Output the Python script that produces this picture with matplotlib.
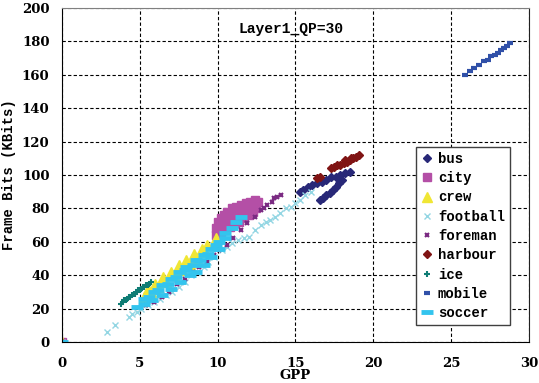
import matplotlib
matplotlib.use("Agg")
import matplotlib.pyplot as plt

# values (GPP, frame bits in KBits)
bus_x = [0, 15.3, 15.5, 15.8, 16.1, 16.4, 16.7, 17.0, 17.3, 17.6, 17.9, 18.2, 18.5,
         16.6, 16.8, 17.0, 17.2, 17.4, 17.6, 17.8, 18.0]
bus_y = [0, 90, 91, 93, 94, 95, 96, 97, 99, 99, 100, 101, 102,
         85, 86, 88, 89, 91, 93, 95, 97]

city_x = [0, 9.9, 10.2, 10.5, 10.8, 11.1, 11.4, 11.7, 12.0, 12.3, 12.5,
          9.9, 10.1, 10.4, 10.7, 11.0, 11.3, 11.6, 11.9, 12.2, 12.5,
          10.0, 10.2, 10.4, 10.6, 10.9, 11.2, 11.5, 11.8, 12.1, 12.4, 12.6,
          10.0, 10.3, 10.6, 10.9, 11.2, 11.5, 11.8]
city_y = [0, 64, 66, 67, 69, 71, 72, 74, 76, 78, 80,
          68, 70, 72, 74, 76, 77, 79, 81, 82, 83,
          72, 74, 76, 78, 80, 81, 82, 83, 84, 85, 84,
          66, 68, 70, 72, 74, 76, 78]

crew_x = [0, 5.3, 5.7, 6.2, 6.7, 7.2, 7.7, 8.2, 8.7, 9.2, 9.7, 9.9,
          5.5, 6.0, 6.5, 7.0, 7.5, 8.0, 8.5, 9.0, 9.3]
crew_y = [0, 27, 30, 33, 36, 40, 43, 47, 50, 54, 58, 62,
          32, 35, 39, 42, 46, 49, 53, 56, 58]

football_x = [0, 2.9, 3.4, 4.3, 4.5, 4.8, 5.1, 5.5, 5.9, 6.3, 6.7, 7.1, 7.5, 7.9,
              8.3, 8.7, 9.1, 9.4, 9.8, 10.3, 10.6, 10.9, 11.3, 11.7, 12.0, 12.4,
              12.8, 13.1, 13.4, 13.7, 14.0, 14.4, 14.7, 15.0, 15.3, 15.6, 16.0]
football_y = [0, 6, 10, 15, 17, 18, 20, 22, 24, 26, 28, 30, 33, 36,
              40, 42, 45, 48, 51, 55, 57, 59, 61, 62, 63, 67,
              70, 72, 73, 75, 77, 80, 81, 83, 85, 88, 90]

foreman_x = [0, 5.4, 5.9, 6.4, 6.9, 7.4, 7.9, 8.4, 8.8, 9.3, 9.8, 10.1, 10.6,
             11.0, 11.5, 11.9, 12.4, 12.8, 13.0, 13.2, 13.5, 13.6, 13.8, 14.1]
foreman_y = [0, 22, 24, 27, 30, 35, 38, 42, 45, 48, 52, 55, 58,
             62, 67, 71, 75, 79, 80, 82, 84, 86, 87, 88]

harbour_x = [16.4, 16.6, 17.3, 17.5, 17.7, 17.9, 18.1, 18.3, 18.5, 18.7, 18.9, 19.1, 18.2, 18.6]
harbour_y = [98, 99, 104, 105, 106, 106, 107, 108, 109, 110, 111, 112, 109, 110]

ice_x = [0, 3.8, 3.9, 4.0, 4.1, 4.2, 4.3, 4.4, 4.5, 4.6, 4.7, 4.8, 4.9, 5.0,
         5.1, 5.2, 5.3, 5.4, 5.5, 5.6, 5.7]
ice_y = [0, 23, 24, 25, 25, 26, 27, 27, 28, 29, 29, 30, 31, 31,
         32, 33, 33, 34, 34, 35, 36]

mobile_x = [0, 25.9, 26.2, 26.5, 26.8, 27.1, 27.4, 27.6, 27.8, 28.0, 28.2, 28.4, 28.6, 28.8]
mobile_y = [0, 160, 162, 164, 166, 168, 169, 171, 172, 173, 175, 176, 177, 179]

soccer_x = [0, 4.8, 5.3, 5.8, 6.4, 7.0, 7.6, 8.2, 8.6, 9.1, 9.6, 10.1, 10.5,
            5.3, 5.9, 6.4, 7.0, 7.5, 8.0, 8.6, 9.1, 9.6, 10.1, 10.5, 10.9, 11.2, 11.5,
            5.6, 6.2, 6.8, 7.3, 7.9, 8.4, 8.9, 9.4, 9.9]
soccer_y = [0, 21, 23, 25, 28, 32, 36, 40, 42, 46, 51, 56, 62,
            26, 30, 34, 38, 42, 45, 49, 52, 56, 60, 65, 68, 72, 75,
            27, 31, 35, 39, 43, 46, 49, 53, 58]

mono = "Liberation Mono"
serif = "DejaVu Serif"

fig = plt.figure(figsize=(5.39, 3.83), dpi=100)
ax = fig.add_axes([0.115, 0.107, 0.866, 0.872])

ax.plot(bus_x, bus_y, ls="none", marker="D", ms=4.5, color="#282878", label="bus")
ax.plot(city_x, city_y, ls="none", marker="s", ms=6, color="#B44FA6", label="city")
ax.plot(crew_x, crew_y, ls="none", marker="^", ms=7, color="#F0E634", label="crew")
ax.plot(football_x, football_y, ls="none", marker="x", ms=4.5, mew=1.0, color="#93D6E3", label="football")
ax.plot(foreman_x, foreman_y, ls="none", marker="x", ms=3.5, mew=1.5, color="#7A2A82", label="foreman")
ax.plot(harbour_x, harbour_y, ls="none", marker="D", ms=4.5, color="#801414", label="harbour")
ax.plot(ice_x, ice_y, ls="none", marker="+", ms=5, mew=1.5, color="#0E7C74", label="ice")
ax.plot(mobile_x, mobile_y, ls="none", marker="_", ms=5, mew=3, color="#3050A8", label="mobile")
ax.plot(soccer_x, soccer_y, ls="none", marker="_", ms=9, mew=3.5, color="#33C4EE", label="soccer")

ax.set_xlim(0, 30)
ax.set_ylim(0, 200)
ax.set_xticks(range(0, 31, 5))
ax.set_yticks(range(0, 201, 20))
ax.grid(True, color="black", ls=(0, (3, 2)), lw=0.8)
ax.tick_params(length=0)
ax.tick_params(axis="x", pad=11)
ax.tick_params(axis="y", pad=9)
for lab in ax.get_xticklabels() + ax.get_yticklabels():
    lab.set_fontfamily(serif)
    lab.set_fontweight("bold")
    lab.set_fontsize(9.5)

ax.spines["top"].set_color("#808080")
ax.spines["right"].set_color("#202020")

ax.set_xlabel("GPP", family=serif, fontweight="bold", fontsize=9.5, labelpad=-1)
ax.set_ylabel("Frame Bits (KBits)", family=mono, fontweight="bold", fontsize=10)
ax.yaxis.set_label_coords(-0.098, 0.5)
ax.text(0.49, 0.937, "Layer1_QP=30", transform=ax.transAxes, family=mono,
        fontweight="bold", fontsize=10.5, ha="center", va="center")

leg = ax.legend(loc="upper left", bbox_to_anchor=(0.759, 0.584), frameon=True,
                fancybox=False, edgecolor="#404040", framealpha=1,
                prop={"family": mono, "weight": "bold", "size": 10},
                labelspacing=0.38, handlelength=0.8, handletextpad=0.4,
                borderpad=0.35, borderaxespad=0, numpoints=1)
leg.get_frame().set_linewidth(1.0)

fig.savefig("out.png", dpi=100)
